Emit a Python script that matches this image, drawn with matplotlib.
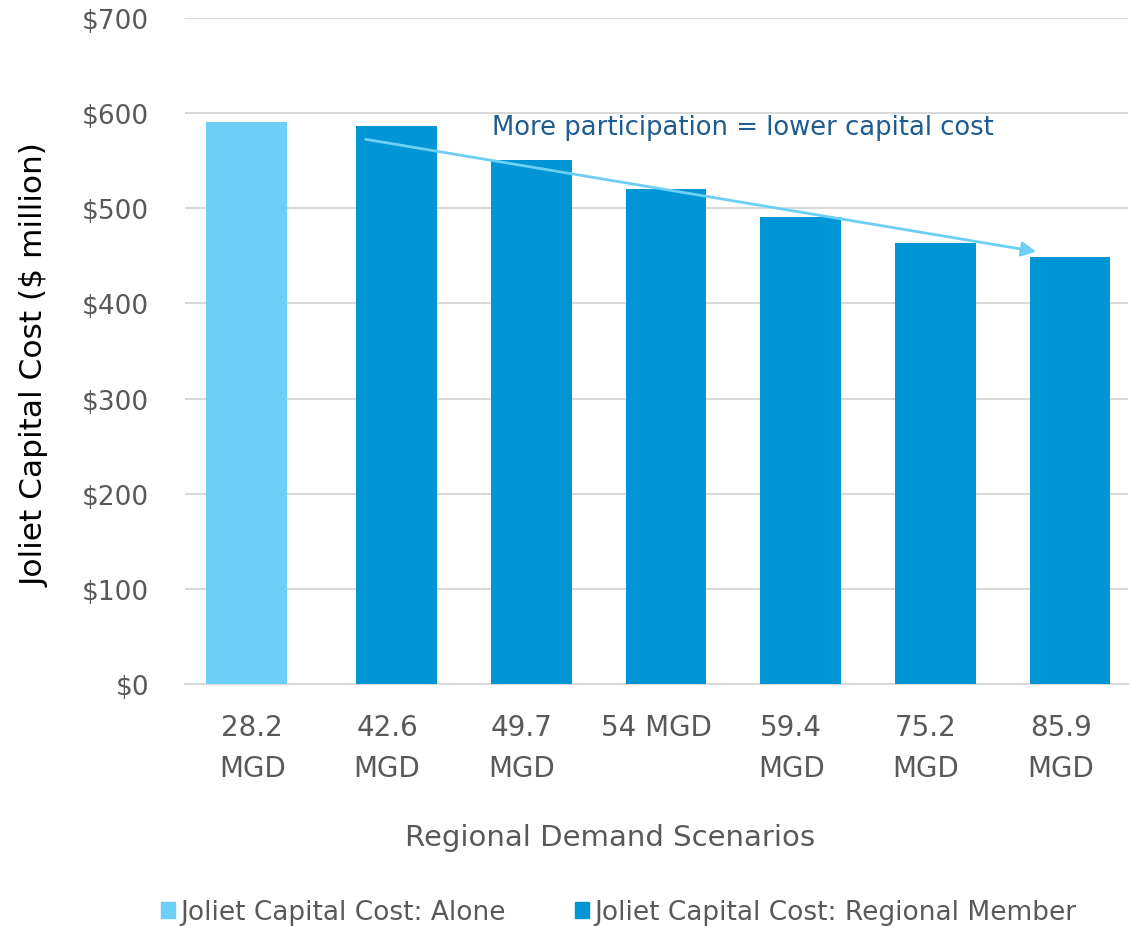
import matplotlib
matplotlib.use("Agg")
import matplotlib.pyplot as plt
from matplotlib.patches import Patch

categories = ["28.2\nMGD", "42.6\nMGD", "49.7\nMGD", "54 MGD", "59.4\nMGD", "75.2\nMGD", "85.9\nMGD"]
alone_values = [591]
regional_values = [586, 551, 520, 491, 464, 449]
y_ticks = [0, 100, 200, 300, 400, 500, 600, 700]
y_tick_labels = ["$" + str(v) for v in y_ticks]
arrow_start = (0.82, 573)
arrow_end = (5.84, 454)

FONT = "DejaVu Sans"
plt.rcParams['font.family'] = [FONT]
GRAY = "#595959"
C_ALONE = "#6DCFF6"
C_REG = "#0096D6"

fig = plt.figure(figsize=(11.31, 9.28), dpi=100)
ax = fig.add_axes([185/1131, 1 - 685/928, (1128-185)/1131, (685-19)/928])

w = 0.60
ax.bar([0 - 0.045], alone_values, width=w, color=C_ALONE, zorder=3)
ax.bar([i + 0.07 for i in range(1, 1 + len(regional_values))], regional_values, width=w, color=C_REG, zorder=3)

ax.set_xlim(-0.5, len(categories) - 0.5)
ax.set_ylim(0, 700)
ax.set_yticks(y_ticks)
ax.set_yticklabels(y_tick_labels, fontsize=19, color=GRAY)
ax.set_xticks(range(len(categories)))
ax.set_xticklabels(categories, fontsize=20, color=GRAY, linespacing=1.6, va="top")
ax.tick_params(axis="y", length=0, pad=26)
ax.tick_params(axis="x", length=0, pad=21)
ax.grid(axis="y", color="#D9D9D9", linewidth=1.5, zorder=0)
for s in ["top", "right", "left"]:
    ax.spines[s].set_visible(False)
ax.spines["bottom"].set_color("#D9D9D9")
ax.spines["bottom"].set_linewidth(1.5)

ax.set_ylabel("Joliet Capital Cost ($ million)", fontsize=22.5, color="black")
ax.yaxis.set_label_coords(-150/943, (685-365)/666)
ax.yaxis.label.set_va("center")
ax.set_xlabel("Regional Demand Scenarios", fontsize=21, color=GRAY)
ax.xaxis.set_label_coords((610-185)/943, -(838-685)/666)
ax.xaxis.label.set_va("center")

ax.annotate("", xy=arrow_end, xytext=arrow_start,
            arrowprops=dict(arrowstyle="-|>", color=C_ALONE, lw=2, mutation_scale=22), zorder=5)
ax.text(1.78, 585, "More participation = lower capital cost", fontsize=18.6, color="#1F5C8F",
        va="center", ha="left", zorder=6)

handles = [Patch(color=C_ALONE, label="Joliet Capital Cost: Alone"),
           Patch(color=C_REG, label="Joliet Capital Cost: Regional Member")]
fig.legend(handles=handles, loc="center", bbox_to_anchor=(0.547, 1 - 913/928), ncol=2,
           frameon=False, fontsize=19, handlelength=0.55, handleheight=0.55, handletextpad=0.2,
           columnspacing=2.6, labelcolor=GRAY)

fig.savefig("out.png", dpi=100)
